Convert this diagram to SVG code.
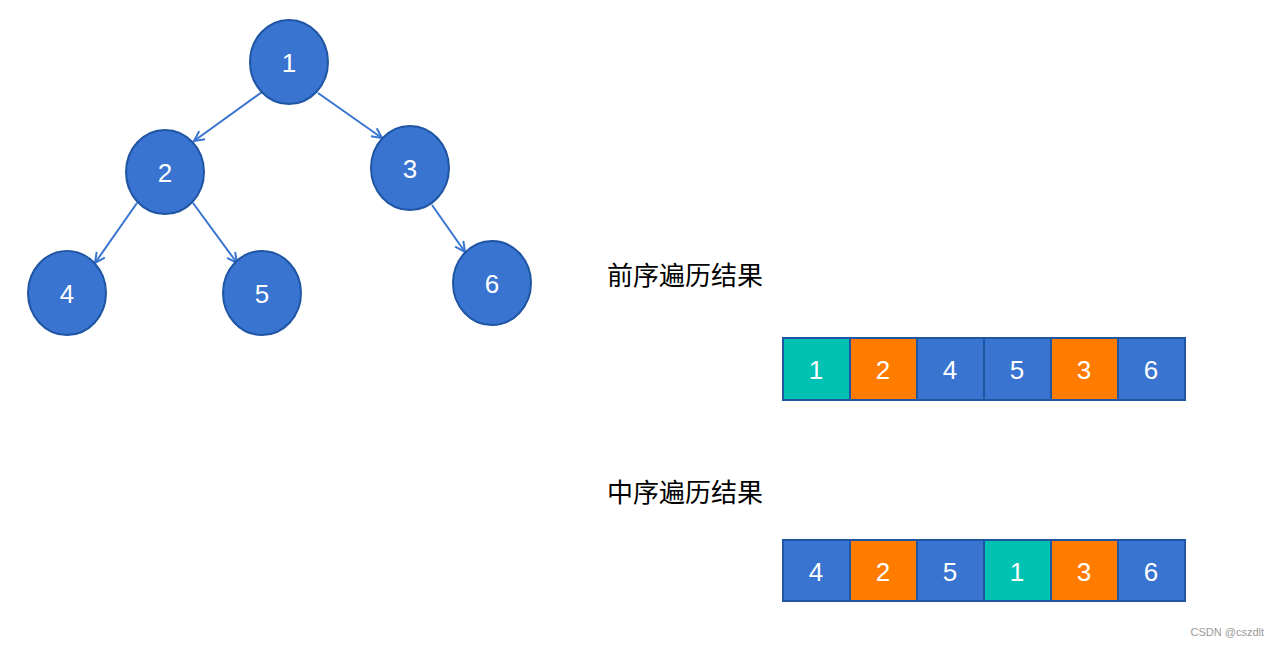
<svg xmlns="http://www.w3.org/2000/svg" width="1280" height="646" viewBox="0 0 1280 646">
<style>
.n ellipse{fill:#3874d0;stroke:#1f55a3;stroke-width:2}
.t{font-family:"Liberation Sans",Arial,sans-serif;font-size:26px;fill:#fff;text-anchor:middle}
.e{stroke:#3874d0;stroke-width:2;fill:none;marker-end:url(#a)}
.c{stroke:#1f55a3;stroke-width:2}
.b{fill:#3874d0}.o{fill:#ff7c00}.g{fill:#00c2b2}
.h{font-family:"Noto Sans CJK SC",sans-serif;font-size:26px;fill:#000}
</style>
<defs><marker id="a" markerWidth="14" markerHeight="14" refX="11" refY="6" orient="auto" markerUnits="userSpaceOnUse"><path d="M1,1 L11,6 L1,11" fill="none" stroke="#3874d0" stroke-width="2"/></marker></defs>
<rect width="1280" height="646" fill="#fff"/>
<g id="edges">
<line class="e" x1="262" y1="92" x2="194" y2="141"/>
<line class="e" x1="318" y1="93" x2="382" y2="138"/>
<line class="e" x1="137" y1="203" x2="95" y2="263"/>
<line class="e" x1="193" y1="203" x2="237" y2="263"/>
<line class="e" x1="432" y1="205" x2="465" y2="252"/>
</g>
<g id="n1" class="n"><ellipse cx="289" cy="62" rx="39" ry="42"/><text class="t" x="289" y="72">1</text></g>
<g id="n2" class="n"><ellipse cx="165" cy="172" rx="39" ry="42"/><text class="t" x="165" y="182">2</text></g>
<g id="n3" class="n"><ellipse cx="410" cy="168" rx="39" ry="42"/><text class="t" x="410" y="178">3</text></g>
<g id="n4" class="n"><ellipse cx="67" cy="293" rx="39" ry="42"/><text class="t" x="67" y="303">4</text></g>
<g id="n5" class="n"><ellipse cx="262" cy="293" rx="39" ry="42"/><text class="t" x="262" y="303">5</text></g>
<g id="n6" class="n"><ellipse cx="492" cy="283" rx="39" ry="42"/><text class="t" x="492" y="293">6</text></g>
<text class="h" x="607" y="285">前序遍历结果</text>
<text class="h" x="607" y="502">中序遍历结果</text>
<g id="pre">
<rect class="g" x="783" y="338" width="67" height="62"/><rect class="o" x="850" y="338" width="67" height="62"/><rect class="b" x="917" y="338" width="67" height="62"/><rect class="b" x="984" y="338" width="67" height="62"/><rect class="o" x="1051" y="338" width="67" height="62"/><rect class="b" x="1118" y="338" width="67" height="62"/>
<rect x="783" y="338" width="402" height="62" fill="none" class="c"/>
<g class="c"><line x1="850" y1="338" x2="850" y2="400"/><line x1="917" y1="338" x2="917" y2="400"/><line x1="984" y1="338" x2="984" y2="400"/><line x1="1051" y1="338" x2="1051" y2="400"/><line x1="1118" y1="338" x2="1118" y2="400"/></g>
<text class="t" x="816" y="379">1</text><text class="t" x="883" y="379">2</text><text class="t" x="950" y="379">4</text><text class="t" x="1017" y="379">5</text><text class="t" x="1084" y="379">3</text><text class="t" x="1151" y="379">6</text>
</g>
<g id="in">
<rect class="b" x="783" y="540" width="67" height="61"/><rect class="o" x="850" y="540" width="67" height="61"/><rect class="b" x="917" y="540" width="67" height="61"/><rect class="g" x="984" y="540" width="67" height="61"/><rect class="o" x="1051" y="540" width="67" height="61"/><rect class="b" x="1118" y="540" width="67" height="61"/>
<rect x="783" y="540" width="402" height="61" fill="none" class="c"/>
<g class="c"><line x1="850" y1="540" x2="850" y2="601"/><line x1="917" y1="540" x2="917" y2="601"/><line x1="984" y1="540" x2="984" y2="601"/><line x1="1051" y1="540" x2="1051" y2="601"/><line x1="1118" y1="540" x2="1118" y2="601"/></g>
<text class="t" x="816" y="581">4</text><text class="t" x="883" y="581">2</text><text class="t" x="950" y="581">5</text><text class="t" x="1017" y="581">1</text><text class="t" x="1084" y="581">3</text><text class="t" x="1151" y="581">6</text>
</g>
<text x="1264" y="636" text-anchor="end" font-family="Liberation Sans,Arial,sans-serif" font-size="11" fill="#999">CSDN @cszdlt</text>
</svg>
